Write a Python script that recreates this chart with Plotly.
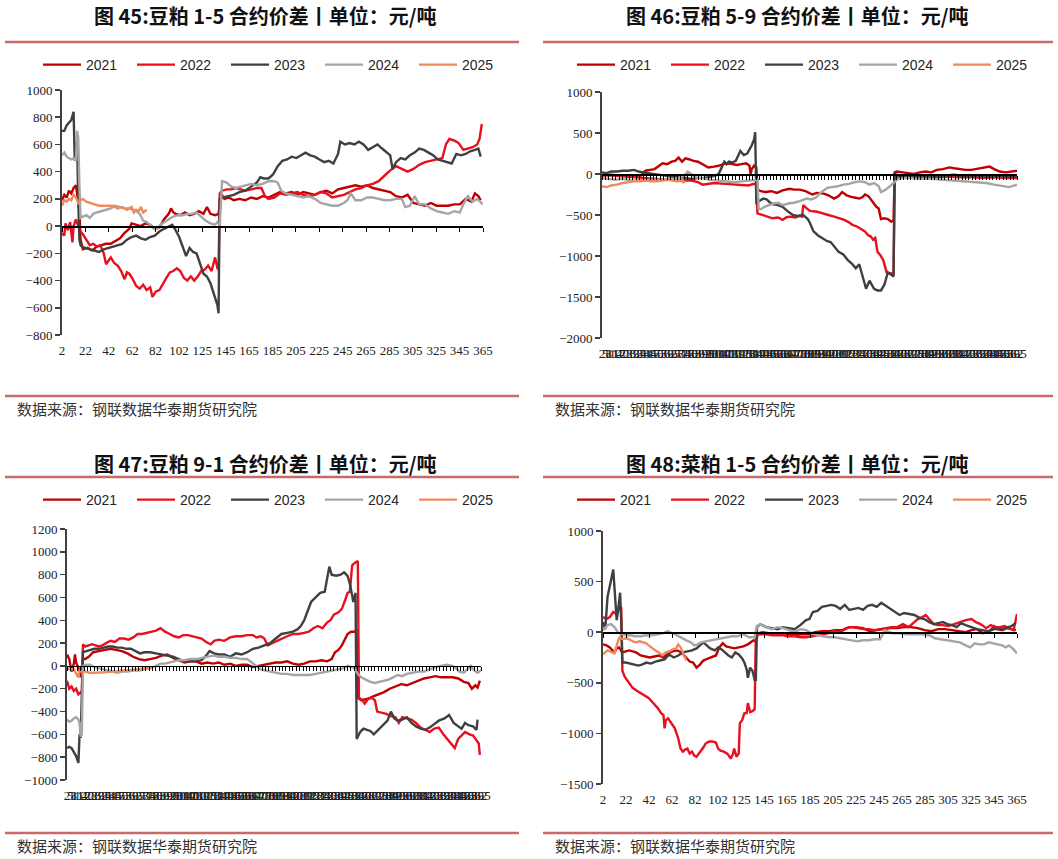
import plotly.graph_objects as go

W, H = 1058, 859
YEARS = ['2021', '2022', '2023', '2024', '2025']
COLORS = ['#C00000', '#E8101E', '#404040', '#A5A5A5', '#F08A5E']

# ---------------- 图45 豆粕1-5 ----------------
P45_2021 = [(2,190),(4,230),(6,210),(8,260),(10,240),(12,280),(14,300),(15,230),(17,120),(18,-100),(20,-170),(24,-160),(28,-180),(32,-150),(36,-140),(40,-130),(44,-130),(48,-110),(52,-90),(56,-50),(60,-20),(62,20),(66,10),(70,0),(74,20),(78,10),(82,-20),(86,-10),(90,50),(94,90),(96,130),(98,100),(100,90),(104,80),(108,100),(112,80),(116,90),(120,110),(124,90),(127,140),(130,90),(134,80),(137,90),(139,240),(142,200),(146,210),(150,190),(155,200),(160,190),(165,210),(170,200),(175,220),(180,210),(185,230),(190,250),(195,240),(200,250),(205,230),(210,250),(215,240),(220,230),(225,250),(230,260),(235,240),(240,270),(245,280),(250,290),(255,300),(260,290),(265,300),(270,280),(275,270),(280,260),(285,250),(290,220),(295,210),(300,230),(305,170),(310,160),(315,150),(320,170),(325,150),(330,150),(335,150),(340,160),(345,160),(350,200),(355,180),(358,240),(361,220),(363,190)]
P45_2022 = [(2,-50),(4,-70),(5,20),(7,-30),(9,30),(11,-120),(12,0),(14,50),(16,0),(18,-40),(20,-60),(23,-100),(26,-140),(29,-130),(32,-150),(35,-140),(38,-200),(40,-280),(42,-250),(44,-230),(47,-270),(50,-290),(53,-330),(56,-390),(58,-340),(60,-350),(63,-390),(66,-440),(69,-460),(72,-430),(75,-470),(78,-450),(80,-520),(83,-480),(86,-470),(89,-420),(92,-380),(95,-340),(98,-330),(101,-310),(104,-330),(107,-380),(110,-400),(113,-370),(116,-400),(119,-370),(122,-330),(125,-320),(128,-290),(131,-330),(134,-230),(136,-310),(137,-320),(138,240),(140,260),(144,270),(148,270),(152,280),(156,270),(160,260),(165,270),(170,280),(174,280),(177,220),(180,200),(185,210),(190,240),(195,230),(200,240),(205,250),(210,230),(215,220),(220,230),(225,250),(230,240),(235,210),(240,220),(245,230),(250,250),(255,270),(260,280),(265,300),(270,310),(275,330),(280,370),(285,410),(290,440),(295,420),(300,400),(305,420),(310,450),(315,470),(320,480),(325,490),(330,500),(333,600),(336,640),(340,630),(344,610),(348,560),(352,570),(356,580),(360,600),(362,640),(364,750)]
P45_2023 = [(2,700),(4,700),(6,740),(8,760),(10,780),(12,840),(13,480),(14,600),(15,620),(16,200),(17,-100),(18,-140),(19,-150),(22,-160),(26,-170),(30,-180),(34,-190),(38,-170),(42,-160),(46,-150),(50,-140),(54,-130),(58,-100),(62,-80),(66,-70),(70,-90),(74,-100),(78,-80),(82,-70),(86,-40),(90,-20),(94,0),(97,10),(100,-30),(103,-80),(106,-150),(109,-220),(112,-160),(115,-190),(118,-200),(121,-280),(124,-350),(127,-370),(130,-420),(133,-500),(136,-580),(137,-640),(138,200),(140,210),(145,220),(150,230),(155,250),(160,260),(165,290),(170,320),(173,360),(176,350),(180,350),(184,380),(188,440),(192,480),(196,490),(200,510),(204,500),(208,520),(212,540),(216,520),(220,510),(224,490),(228,470),(232,480),(236,460),(240,530),(242,620),(246,600),(250,610),(254,600),(258,620),(262,600),(266,560),(270,580),(274,600),(278,570),(282,540),(285,520),(287,420),(290,470),(294,500),(298,490),(302,520),(306,540),(310,570),(314,560),(318,540),(322,520),(326,490),(330,480),(334,470),(338,460),(342,530),(346,520),(350,530),(354,550),(358,560),(361,570),(363,510)]
P45_2024 = [(2,520),(4,540),(6,510),(8,500),(10,490),(12,500),(14,480),(15,700),(16,650),(17,300),(18,60),(20,70),(23,80),(26,60),(29,90),(32,100),(36,110),(40,120),(44,130),(48,150),(52,140),(56,130),(60,130),(63,120),(66,110),(69,90),(72,40),(75,30),(78,10),(81,-20),(84,-20),(87,10),(90,30),(94,50),(98,70),(102,80),(106,80),(110,90),(114,90),(118,100),(122,70),(126,40),(130,20),(134,10),(136,30),(137,20),(138,0),(139,230),(140,330),(144,320),(148,290),(152,280),(156,290),(160,300),(165,310),(170,300),(175,310),(180,330),(185,330),(188,320),(191,260),(195,240),(200,230),(205,220),(210,210),(215,220),(220,200),(225,170),(230,160),(235,150),(240,150),(245,170),(248,190),(251,240),(255,190),(260,190),(265,210),(270,210),(275,200),(280,190),(285,190),(290,200),(295,200),(298,140),(302,150),(306,220),(310,160),(315,160),(320,130),(325,110),(330,100),(335,90),(340,110),(345,100),(348,160),(352,220),(356,180),(360,200),(365,160)]
P45_2025 = [(2,150),(4,190),(6,180),(8,200),(10,190),(12,230),(14,210),(16,170),(18,190),(20,200),(23,180),(26,170),(30,160),(34,150),(38,150),(42,150),(46,150),(50,130),(54,140),(58,120),(62,140),(64,100),(66,120),(68,110),(70,140),(72,100),(75,120)]

# ---------------- 图46 豆粕5-9 ----------------
P46_2021 = [(2,-20),(10,-10),(20,-20),(30,-30),(36,-20),(40,40),(44,50),(48,60),(52,100),(55,130),(59,120),(63,150),(66,160),(69,200),(72,150),(75,190),(78,180),(82,160),(86,150),(90,120),(95,80),(100,90),(104,100),(108,120),(112,130),(116,120),(120,110),(124,120),(128,130),(131,100),(132,0),(133,60),(135,100),(137,80),(138,-190),(141,-210),(145,-220),(150,-210),(155,-230),(160,-200),(166,-180),(170,-190),(175,-190),(180,-210),(186,-250),(190,-230),(196,-240),(200,-260),(205,-300),(209,-270),(212,-220),(216,-260),(220,-280),(224,-290),(227,-300),(230,-280),(232,-250),(235,-270),(238,-330),(242,-400),(244,-420),(246,-550),(249,-540),(252,-550),(255,-580),(257,-570),(258,20),(260,30),(265,20),(270,10),(275,0),(280,20),(285,30),(290,20),(295,50),(300,60),(306,80),(310,70),(315,60),(320,50),(325,50),(330,60),(335,70),(341,90),(345,60),(350,30),(355,20),(360,30),(365,40)]
P46_2022 = [(2,-10),(10,-20),(20,-30),(30,-40),(40,-50),(50,-60),(60,-70),(70,-80),(80,-80),(86,-100),(90,-130),(95,-120),(100,-110),(110,-120),(120,-130),(130,-140),(135,-120),(137,-130),(138,-480),(142,-500),(146,-520),(151,-540),(156,-530),(160,-560),(163,-530),(166,-520),(171,-530),(175,-510),(177,-520),(178,-380),(181,-420),(184,-450),(190,-460),(196,-480),(200,-500),(205,-520),(210,-540),(214,-560),(218,-590),(221,-620),(225,-640),(229,-670),(232,-700),(235,-750),(237,-760),(239,-800),(241,-780),(243,-950),(245,-980),(248,-1050),(250,-1150),(251,-1200),(254,-1210),(257,-1220),(258,-30),(265,-40),(275,-30),(285,-40),(295,-40),(305,-30),(315,-40),(325,-40),(335,-50),(345,-40),(355,-50),(365,-50)]
P46_2023 = [(2,20),(6,10),(10,30),(15,30),(20,40),(25,40),(30,50),(34,30),(38,20),(42,10),(47,0),(52,-10),(57,-20),(62,-30),(67,-30),(72,-40),(76,-50),(80,-60),(85,-50),(90,-50),(95,-40),(101,-20),(104,0),(107,80),(109,150),(111,120),(113,150),(116,140),(119,160),(121,220),(123,280),(126,230),(129,250),(131,300),(133,350),(135,420),(136,510),(137,-350),(140,-330),(143,-300),(146,-310),(149,-350),(152,-370),(156,-380),(160,-400),(164,-450),(169,-500),(173,-510),(178,-500),(182,-550),(184,-600),(187,-700),(191,-750),(196,-800),(199,-820),(202,-830),(205,-880),(209,-950),(213,-980),(217,-1050),(221,-1100),(224,-1150),(227,-1100),(230,-1250),(233,-1400),(236,-1300),(238,-1350),(240,-1400),(243,-1420),(246,-1420),(249,-1350),(252,-1200),(255,-1230),(257,-1250),(258,0),(262,-20),(266,-40),(270,-30),(280,-20),(290,-30),(300,-20),(310,-10),(320,-30),(330,-20),(340,-30),(350,-20),(360,-30),(365,-30)]
P46_2024 = [(2,-50),(8,-60),(14,-70),(20,-60),(28,-80),(36,-80),(44,-70),(52,-70),(60,-60),(66,-60),(70,-40),(74,-20),(77,30),(80,0),(84,-40),(90,-50),(96,-70),(102,-80),(110,-90),(118,-100),(124,-90),(130,-80),(135,-70),(138,-70),(139,-420),(141,-430),(144,-400),(148,-380),(152,-360),(156,-350),(160,-380),(165,-360),(170,-350),(175,-330),(181,-300),(185,-310),(189,-290),(193,-230),(196,-200),(199,-170),(203,-160),(208,-150),(213,-130),(218,-120),(223,-100),(228,-90),(232,-100),(236,-130),(240,-110),(244,-150),(246,-220),(249,-200),(253,-160),(257,-110),(261,-60),(266,-50),(272,-50),(280,-60),(290,-60),(300,-70),(310,-80),(320,-90),(330,-100),(338,-110),(345,-130),(352,-150),(358,-160),(365,-130)]
P46_2025 = [(2,-150),(6,-160),(10,-140),(15,-130),(20,-110),(25,-100),(30,-90),(35,-90),(40,-80),(45,-90),(50,-90),(55,-80),(60,-70),(64,-80),(68,-90),(71,-60),(73,-100),(75,-90)]

# ---------------- 图47 豆粕9-1 ----------------
P47_2021 = [(2,100),(4,60),(6,-50),(8,20),(9,100),(10,30),(12,-20),(14,-100),(16,60),(18,60),(21,80),(25,120),(30,130),(35,140),(40,150),(45,140),(50,130),(55,110),(60,80),(65,60),(70,50),(75,60),(80,70),(85,90),(90,100),(95,70),(100,50),(105,30),(110,40),(115,40),(120,20),(125,30),(130,20),(135,30),(140,10),(145,20),(150,0),(155,10),(160,10),(165,-10),(170,0),(175,10),(180,20),(185,30),(190,30),(195,40),(200,20),(205,10),(210,20),(215,40),(220,40),(225,50),(230,40),(234,60),(237,120),(240,140),(243,180),(246,250),(248,280),(251,300),(254,300),(256,310),(257,-280),(260,-300),(265,-290),(270,-270),(275,-250),(280,-230),(285,-200),(290,-180),(295,-160),(300,-170),(305,-150),(310,-130),(315,-110),(320,-100),(325,-90),(330,-100),(335,-100),(340,-100),(345,-110),(350,-140),(354,-150),(357,-200),(360,-170),(362,-190),(364,-130)]
P47_2022 = [(2,-130),(4,-200),(6,-180),(8,-220),(10,-200),(12,-250),(14,-230),(15,-250),(16,190),(18,170),(21,180),(24,190),(27,180),(30,170),(33,180),(36,200),(40,220),(44,210),(48,240),(52,240),(56,230),(60,250),(64,280),(68,280),(72,290),(76,300),(80,310),(84,330),(88,300),(92,280),(96,260),(100,250),(104,270),(108,270),(112,260),(116,250),(120,240),(124,210),(128,190),(131,220),(135,230),(140,220),(145,250),(150,260),(155,260),(160,270),(165,270),(168,250),(172,260),(175,240),(178,180),(182,200),(186,220),(190,240),(195,260),(200,280),(205,280),(210,290),(214,300),(218,330),(222,350),(226,330),(230,380),(233,400),(236,450),(240,470),(243,500),(246,580),(248,640),(250,650),(252,880),(254,900),(257,920),(258,-280),(261,-300),(263,-330),(266,-290),(269,-280),(272,-300),(274,-400),(278,-410),(282,-420),(286,-440),(290,-450),(293,-500),(296,-450),(300,-460),(304,-470),(308,-500),(312,-540),(316,-560),(320,-580),(324,-550),(328,-540),(332,-600),(336,-650),(339,-680),(342,-720),(345,-640),(348,-610),(351,-580),(355,-600),(358,-610),(361,-650),(363,-680),(364,-780)]
P47_2023 = [(2,-720),(4,-710),(6,-720),(8,-760),(10,-790),(12,-850),(13,-600),(14,-630),(16,120),(19,130),(22,140),(26,150),(30,150),(34,160),(38,170),(42,170),(46,160),(50,160),(54,150),(58,150),(62,130),(66,110),(70,120),(75,120),(80,110),(85,100),(90,90),(95,80),(100,60),(105,40),(110,40),(115,40),(120,50),(124,90),(127,130),(131,110),(135,100),(140,100),(145,80),(150,110),(155,100),(160,120),(165,150),(170,160),(175,180),(180,200),(185,240),(190,280),(195,290),(200,300),(204,320),(207,350),(210,400),(213,480),(216,560),(220,600),(224,640),(228,650),(230,780),(232,870),(234,800),(238,790),(242,800),(245,820),(248,790),(250,720),(252,620),(253,560),(255,640),(256,-640),(259,-580),(262,-550),(265,-560),(268,-570),(271,-600),(275,-560),(279,-520),(283,-480),(286,-400),(289,-460),(292,-480),(296,-470),(300,-450),(304,-500),(308,-530),(312,-550),(316,-560),(320,-540),(324,-510),(328,-480),(333,-460),(337,-430),(341,-500),(345,-530),(348,-550),(351,-500),(354,-520),(358,-530),(361,-560),(362,-470)]
P47_2024 = [(2,-470),(4,-490),(6,-480),(8,-460),(10,-450),(12,-470),(13,-500),(14,-620),(15,-600),(16,0),(19,10),(22,10),(26,-10),(30,-20),(34,-30),(38,-40),(42,-50),(46,-60),(50,-50),(55,-50),(60,-40),(65,-40),(70,-30),(75,-20),(80,0),(84,20),(88,20),(92,30),(96,40),(100,50),(105,50),(110,60),(115,60),(120,70),(125,80),(130,90),(135,80),(140,80),(145,70),(150,70),(155,60),(160,60),(164,30),(168,0),(172,-30),(176,-40),(180,-50),(185,-60),(190,-70),(195,-70),(200,-80),(205,-80),(210,-80),(215,-80),(220,-70),(225,-60),(230,-50),(235,-40),(240,-30),(245,-20),(248,0),(251,-10),(254,-20),(257,-70),(260,-100),(264,-120),(268,-140),(272,-150),(276,-140),(280,-130),(284,-120),(288,-100),(292,-80),(296,-90),(300,-70),(305,-60),(310,-50),(315,-50),(320,-30),(325,-10),(330,0),(335,10),(340,0),(343,-20),(346,-50),(350,-60),(353,-30),(356,0),(359,-40),(362,-60),(365,-40)]
P47_2025 = [(2,-20),(5,-30),(8,-30),(10,-60),(12,-100),(13,-40),(15,-50),(18,-50),(22,-60),(26,-60),(30,-60),(35,-55),(40,-50),(45,-50),(50,-40),(55,-40),(60,-30),(65,-30),(70,-20),(73,-20),(75,-10)]

# ---------------- 图48 菜粕1-5 ----------------
P48_2021 = [(2,-120),(5,-130),(8,-150),(10,-180),(12,-200),(14,-160),(16,-150),(19,-200),(22,-190),(25,-180),(28,-190),(31,-200),(35,-230),(39,-240),(43,-250),(47,-240),(51,-230),(55,-250),(59,-210),(63,-190),(67,-180),(71,-200),(75,-250),(78,-290),(81,-300),(84,-350),(87,-320),(90,-280),(94,-260),(98,-240),(101,-230),(104,-150),(107,-110),(110,-140),(113,-150),(117,-160),(121,-150),(125,-140),(129,-120),(132,-100),(134,-80),(136,-90),(138,-10),(142,0),(147,-10),(152,-10),(158,-20),(164,-30),(170,-30),(176,-20),(182,-20),(188,0),(194,10),(200,10),(206,20),(212,20),(218,50),(224,50),(230,40),(236,10),(242,20),(248,30),(254,40),(260,40),(266,50),(272,50),(278,40),(284,20),(290,10),(296,30),(302,30),(308,20),(314,10),(320,0),(325,20),(330,30),(335,-10),(340,0),(345,60),(348,30),(352,20),(356,40),(360,30),(364,20)]
P48_2022 = [(2,150),(5,130),(8,150),(11,200),(14,180),(17,250),(18,240),(19,-380),(21,-440),(23,-470),(25,-500),(28,-550),(32,-580),(35,-600),(38,-620),(42,-650),(46,-700),(50,-750),(53,-800),(55,-820),(56,-950),(57,-870),(59,-850),(62,-900),(65,-950),(68,-1050),(70,-1150),(72,-1180),(74,-1160),(76,-1150),(78,-1200),(80,-1180),(82,-1220),(84,-1230),(86,-1200),(88,-1180),(90,-1140),(92,-1100),(95,-1080),(98,-1080),(101,-1090),(103,-1150),(105,-1170),(108,-1180),(111,-1200),(114,-1250),(116,-1200),(117,-1150),(119,-1230),(121,-1200),(122,-900),(124,-870),(126,-800),(128,-800),(129,-700),(131,-790),(133,-780),(135,-760),(136,-20),(140,-20),(145,-20),(150,-30),(155,-30),(160,-30),(165,-40),(170,-40),(175,-50),(180,-50),(185,-40),(190,-30),(195,-20),(200,-10),(205,10),(210,0),(215,40),(220,50),(225,40),(230,30),(235,30),(240,20),(245,30),(250,40),(255,50),(260,50),(265,80),(270,50),(275,100),(278,130),(282,150),(285,170),(288,130),(292,80),(296,70),(300,70),(305,60),(310,80),(315,100),(320,120),(325,130),(329,100),(333,80),(338,40),(342,70),(346,50),(350,50),(354,60),(358,40),(362,20),(365,180)]
P48_2023 = [(2,100),(4,30),(6,350),(8,450),(10,560),(11,620),(12,450),(13,300),(14,120),(15,200),(16,300),(17,390),(18,100),(19,-300),(22,-300),(26,-310),(30,-320),(33,-330),(36,-320),(40,-300),(44,-310),(48,-290),(52,-280),(56,-270),(60,-220),(64,-250),(68,-230),(72,-200),(76,-190),(80,-180),(84,-160),(87,-130),(90,-100),(93,-130),(96,-160),(100,-180),(103,-150),(106,-170),(109,-200),(112,-230),(115,-250),(118,-200),(121,-220),(124,-260),(126,-300),(128,-370),(129,-450),(131,-350),(133,-380),(135,-470),(136,-470),(137,50),(140,80),(145,50),(150,40),(155,30),(160,50),(165,40),(170,30),(175,70),(180,120),(183,130),(186,200),(190,210),(194,250),(198,260),(202,270),(206,260),(210,230),(214,270),(218,220),(222,230),(226,240),(230,220),(234,260),(238,270),(242,250),(246,290),(250,260),(254,230),(258,200),(262,170),(266,190),(270,180),(275,170),(280,140),(284,130),(288,100),(292,80),(296,90),(300,100),(304,80),(308,70),(312,50),(316,90),(320,70),(325,50),(330,30),(335,20),(340,10),(345,30),(350,30),(355,40),(360,60),(364,90)]
P48_2024 = [(2,20),(4,50),(6,70),(9,80),(12,50),(15,0),(18,-20),(22,-30),(26,-30),(30,-40),(35,-40),(40,-30),(45,-30),(50,-20),(55,-10),(59,10),(62,-10),(65,-20),(68,-40),(71,-60),(75,-80),(79,-100),(82,-130),(85,-120),(88,-100),(92,-90),(96,-80),(100,-70),(105,-60),(110,-50),(115,-40),(120,-40),(125,-20),(130,-50),(135,-50),(137,60),(140,80),(145,50),(150,30),(155,50),(160,40),(165,20),(170,0),(175,30),(180,20),(185,-10),(190,-30),(195,-40),(200,-50),(205,-50),(210,-60),(215,-70),(220,-80),(225,-90),(230,-80),(235,-80),(240,-70),(245,-70),(249,20),(252,10),(256,-10),(262,-10),(268,-20),(275,-20),(282,-20),(288,-30),(293,-60),(298,-70),(304,-80),(310,-90),(315,-100),(320,-130),(324,-150),(328,-110),(332,-120),(336,-120),(340,-100),(344,-110),(348,-120),(352,-130),(355,-150),(358,-130),(362,-170),(365,-210)]
P48_2025 = [(2,-220),(4,-200),(6,-180),(8,-190),(10,-200),(12,-210),(14,-130),(16,-60),(17,-50),(19,-70),(22,-60),(25,-70),(28,-90),(31,-100),(34,-90),(37,-100),(40,-110),(42,-130),(45,-160),(48,-180),(51,-200),(54,-230),(57,-200),(60,-190),(63,-170),(66,-160),(68,-120),(70,-150),(72,-200),(74,-250),(75,-280)]

# tick labels
XLAB_SPARSE = ['2','22','42','62','82','102','125','145','165','185','205','225','245','265','285','305','325','345','365']
XPOS_SPARSE = [2 + i * 363 / 18 for i in range(len(XLAB_SPARSE))]
XPOS_DENSE = list(range(2, 366, 3))
XLAB_DENSE = [str(v) for v in XPOS_DENSE]

TITLES = ['图 45:豆粕 1-5 合约价差丨单位：元/吨', '图 46:豆粕 5-9 合约价差丨单位：元/吨',
          '图 47:豆粕 9-1 合约价差丨单位：元/吨', '图 48:菜粕 1-5 合约价差丨单位：元/吨']
SOURCE = '数据来源：钢联数据华泰期货研究院'

SERIES = [
    [P45_2021, P45_2022, P45_2023, P45_2024, P45_2025],
    [P46_2021, P46_2022, P46_2023, P46_2024, P46_2025],
    [P47_2021, P47_2022, P47_2023, P47_2024, P47_2025],
    [P48_2021, P48_2022, P48_2023, P48_2024, P48_2025],
]
YRANGES = [(-800, 1000, 200), (-2000, 1000, 500), (-1000, 1200, 200), (-1500, 1000, 500)]

# geometry in window pixels
GEOM = [
    dict(x0=62, x1=483, yt=90, yb=335, dense=False, tx=265, ty=16, lx=38, ly=65),
    dict(x0=602, x1=1017, yt=92, yb=338, dense=True, tx=797, ty=16, lx=572, ly=65),
    dict(x0=67, x1=481, yt=529, yb=780, dense=True, tx=265, ty=463, lx=38, ly=500),
    dict(x0=603, x1=1017, yt=531, yb=784, dense=False, tx=797, ty=463, lx=572, ly=500),
]


def fx(p):
    return p / W


def fy(p):
    return 1 - p / H


SERIF = 'Liberation Serif'
CJK = 'Noto Sans CJK SC'

fig = go.Figure()
layout = dict(width=W, height=H, margin=dict(l=0, r=0, t=0, b=0, autoexpand=False),
              paper_bgcolor='white', plot_bgcolor='rgba(0,0,0,0)', showlegend=True)
annotations = []
shapes = []

for i, (g, series, (ymin, ymax, dt)) in enumerate(zip(GEOM, SERIES, YRANGES)):
    k = i + 1
    xa = 'x' if k == 1 else f'x{k}'
    ya = 'y' if k == 1 else f'y{k}'
    leg = 'legend' if k == 1 else f'legend{k}'
    for s, yr, col in zip(series, YEARS, COLORS):
        fig.add_trace(go.Scatter(x=[p[0] for p in s], y=[p[1] for p in s], mode='lines',
                                 line=dict(color=col, width=2.4), name=yr,
                                 xaxis=xa, yaxis=ya, legend=leg, hoverinfo='skip'))
    tv = XPOS_DENSE if g['dense'] else XPOS_SPARSE
    tt = XLAB_DENSE if g['dense'] else XLAB_SPARSE
    xdom = [fx(g['x0']), fx(g['x1'])]
    ydom = [fy(g['yb']), fy(g['yt'])]
    layout['xaxis' if k == 1 else f'xaxis{k}'] = dict(
        domain=xdom, range=[2, 365], anchor=ya, showgrid=False, zeroline=False, showline=False,
        tickmode='array', tickvals=tv, ticktext=tt, ticks='', tickangle=0, ticklabelstandoff=6,
        tickfont=dict(family=SERIF, size=13, color='#222'))
    layout['yaxis' if k == 1 else f'yaxis{k}'] = dict(
        domain=ydom, range=[ymin, ymax], anchor=xa, dtick=dt, tick0=0, showgrid=False,
        zeroline=False, showline=True, linecolor='#404040', linewidth=2,
        ticks='outside', ticklen=5, tickwidth=1.5, tickcolor='#404040',
        tickfont=dict(family=SERIF, size=13, color='#222'))
    # axis line on y = 0 with tick marks
    zpos = ydom[0] + (0 - ymin) / (ymax - ymin) * (ydom[1] - ydom[0])
    zid = k + 4
    layout[f'xaxis{zid}'] = dict(
        domain=xdom, range=[2, 365], overlaying=xa, anchor='free', position=zpos,
        showgrid=False, zeroline=False, showline=True, linecolor='#000', linewidth=1.5,
        tickmode='array', tickvals=tv, ticks='outside', ticklen=4, tickwidth=1,
        tickcolor='#000', showticklabels=False)
    fig.add_trace(go.Scatter(x=[2], y=[0], xaxis=f'x{zid}', yaxis=ya, mode='markers',
                             marker=dict(opacity=0), showlegend=False, hoverinfo='skip'))
    layout[leg] = dict(orientation='h', x=fx(g['lx']), y=fy(g['ly']), xanchor='left',
                       yanchor='middle', font=dict(family='Liberation Sans', size=14, color='#262626'),
                       itemwidth=38, entrywidth=41, entrywidthmode='pixels', bgcolor='rgba(0,0,0,0)',
                       tracegroupgap=0)
    annotations.append(dict(text='<b>' + TITLES[i] + '</b>', x=fx(g['tx']), y=fy(g['ty']),
                            xref='paper', yref='paper', showarrow=False, xanchor='center', yanchor='middle',
                            font=dict(family=CJK, size=20, color='#111')))

# separator lines and source notes
LINE_COL = '#C96A6A'
for (lx0, lx1) in [(5, 519), (543, 1053)]:
    for ly in [42, 396, 477, 833]:
        shapes.append(dict(type='line', xref='paper', yref='paper', x0=fx(lx0), x1=fx(lx1),
                           y0=fy(ly), y1=fy(ly), line=dict(color=LINE_COL, width=2.5)))
for sx, sy in [(15, 408), (553, 408), (15, 845), (553, 845)]:
    annotations.append(dict(text=SOURCE, x=fx(sx), y=fy(sy), xref='paper', yref='paper',
                            showarrow=False, xanchor='left', yanchor='middle',
                            font=dict(family=CJK, size=15, color='#333')))

layout['annotations'] = annotations
layout['shapes'] = shapes
layout['hovermode'] = False
fig.update_layout(**layout)
# remove the default page margin so the figure fills the window exactly
fig.write_html('out.html', config={'displayModeBar': False, 'staticPlot': True},
               post_script="document.body.style.margin='0';document.body.style.overflow='hidden';")
